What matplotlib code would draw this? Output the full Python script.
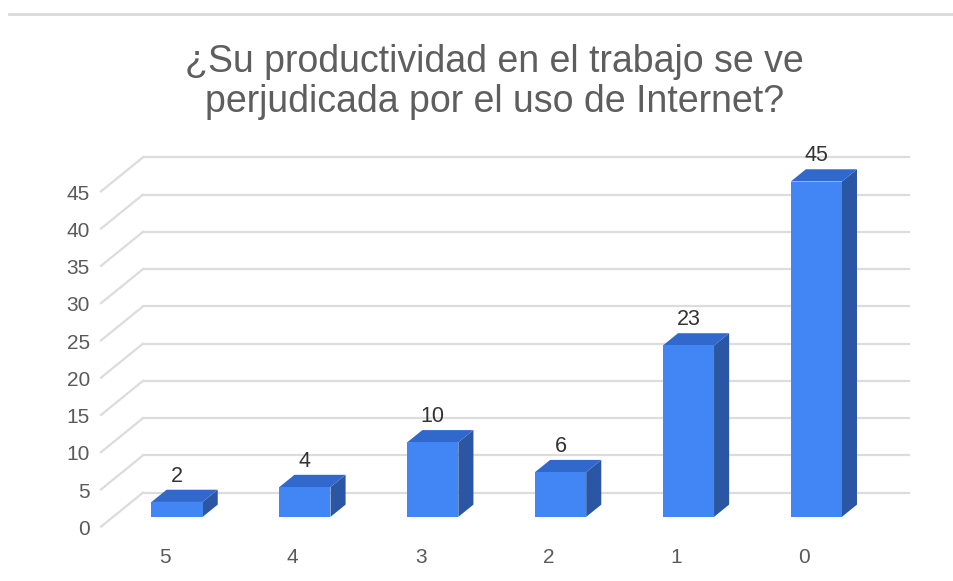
import matplotlib
matplotlib.use('Agg')
from matplotlib import pyplot as plt
from matplotlib.patches import Polygon

# datos
categorias = ['5', '4', '3', '2', '1', '0']
valores = [2, 4, 10, 6, 23, 45]
ticks_y = [0, 5, 10, 15, 20, 25, 30, 35, 40, 45]
titulo = '¿Su productividad en el trabajo se ve\nperjudicada por el uso de Internet?'

plt.rcParams['font.family'] = ['Liberation Sans', 'DejaVu Sans']

fig = plt.figure(figsize=(9.54, 5.81), dpi=100)
ax = fig.add_axes([0.0828, 0.0878, 0.8711, 0.6798])
ax.set_xlim(-1.0, 5.5)
ax.set_ylim(-5, 48)
ax.axis('off')

# perspectiva: desplazamiento del plano frontal respecto a la pared del fondo
DX, DY = -0.328, -4.56


def proy(x, y, d):
    return (x + DX * d, y + DY * d)


# rejilla
for v in ticks_y:
    ax.plot([-0.5, 5.5], [v, v], color='#dcdcdc', lw=1.6, zorder=1)
    x0, y0 = proy(-0.5, v, 1.0)
    ax.plot([-0.5, x0], [v, y0], color='#dcdcdc', lw=1.6, zorder=1)
    ax.annotate(str(v), (x0, y0), xytext=(-8, -2), textcoords='offset points',
                ha='right', va='center', fontsize=15, color='#5a5a5a')

# barras 3D
w = 0.2
d0, d1 = 0.35, 0.71
for i, (cat, v) in enumerate(zip(categorias, valores)):
    frente = [proy(i - w, 0, d1), proy(i + w, 0, d1), proy(i + w, v, d1), proy(i - w, v, d1)]
    arriba = [proy(i - w, v, d1), proy(i + w, v, d1), proy(i + w, v, d0), proy(i - w, v, d0)]
    lado = [proy(i + w, 0, d1), proy(i + w, 0, d0), proy(i + w, v, d0), proy(i + w, v, d1)]
    ax.add_patch(Polygon(lado, closed=True, facecolor='#2a56a3', edgecolor='none', zorder=3))
    ax.add_patch(Polygon(arriba, closed=True, facecolor='#3068cc', edgecolor='none', zorder=3))
    ax.add_patch(Polygon(frente, closed=True, facecolor='#4285f4', edgecolor='none', zorder=4))

    xe, ye = proy(i, v, d1)
    _, yt = proy(i, v, d0)
    ax.annotate(str(v), (xe, yt), xytext=(0, 2), textcoords='offset points',
                ha='center', va='bottom', fontsize=15.5, color='#333333', zorder=5)

    xl, yl = proy(i, 0, 1.0)
    ax.annotate(cat, (xl, yl), xytext=(0, -22), textcoords='offset points',
                ha='center', va='center', fontsize=15, color='#5a5a5a')

# título
fig.text(0.518, 0.859, titulo, ha='center', va='center', fontsize=27,
         color='#5e5e5e', linespacing=1.12)

# línea separadora superior
fig.add_artist(plt.Line2D([0.009, 1.0], [1 - 14 / 581, 1 - 14 / 581],
                          color='#d9d9d9', lw=2))

plt.savefig('out.png', dpi=100, facecolor='white')
